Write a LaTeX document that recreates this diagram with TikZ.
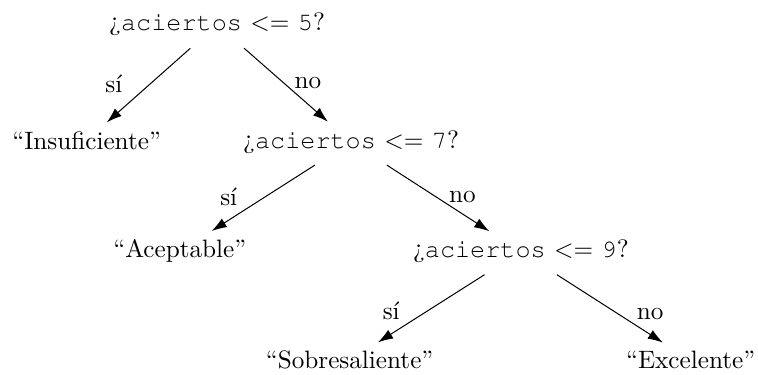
\documentclass[tikz,border=0pt]{standalone}
\usepackage[T1,TU]{fontenc}
\usepackage{tikz}
\usetikzlibrary{arrows.meta,positioning}
\newcommand{\cour}[1]{{\fontencoding{T1}\fontfamily{pcr}\selectfont #1}}

\begin{document}
\begin{tikzpicture}[
  cond/.style={anchor=base},
  res/.style={anchor=base},
  arr/.style={-{Latex[length=6pt,width=4pt]},shorten <=2pt},
  lbl/.style={midway,inner sep=1pt}
]
  \useasboundingbox (0,0) rectangle (10.58,-5.23);

  \node[cond](q5) at (3.03,-0.43) {¿\cour{aciertos} $<=$ \cour{5}?};
  \node[res](ins) at (1.21,-2.08) {``Insuficiente''};
  \node[cond](q7) at (4.90,-2.07) {¿\cour{aciertos} $<=$ \cour{7}?};
  \node[res](acep) at (2.51,-3.60) {``Aceptable''};
  \node[cond](q9) at (7.27,-3.60) {¿\cour{aciertos} $<=$ \cour{9}?};
  \node[res](sob) at (4.88,-5.15) {``Sobresaliente''};
  \node[res](exc) at (9.64,-5.15) {``Excelente''};

  \draw[arr](q5)--(ins) node[lbl,left=10pt]{sí};
  \draw[arr](q5)--(q7) node[lbl,right=3pt]{no};
  \draw[arr](q7)--(acep) node[lbl,left=10pt]{sí};
  \draw[arr](q7)--(q9) node[lbl,right=4pt]{no};
  \draw[arr](q9)--(sob) node[lbl,pos=0.55,left=10pt]{sí};
  \draw[arr](q9)--(exc) node[lbl,pos=0.6,right=6pt]{no};
\end{tikzpicture}
\end{document}
